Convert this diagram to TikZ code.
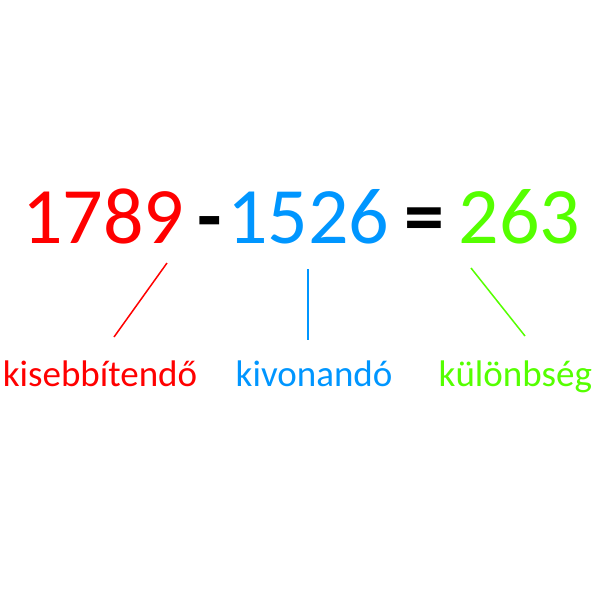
\documentclass[tikz,border=0pt]{standalone}
\usepackage{fontspec}
\setmainfont{Carlito}
\definecolor{cred}{RGB}{255,0,0}
\definecolor{cblue}{RGB}{0,150,255}
\definecolor{cgreen}{RGB}{85,255,0}
\begin{document}
\begin{tikzpicture}[x=1pt,y=-1pt,
  big/.style={inner sep=0pt,anchor=base west,font=\fontsize{80}{90}\selectfont},
  bigb/.style={big,font=\bfseries\fontsize{80}{90}\selectfont},
  lab/.style={inner sep=0pt,anchor=base west,font=\fontsize{37}{42}\selectfont},
  conn/.style={line width=1.5pt}]
\useasboundingbox (0,0) rectangle (600,600);
\node[big,text=cred] (n1) at (22,243) {1789};
\node[bigb] (minus) at (197,243) {-};
\node[big,text=cblue] (n2) at (227,243) {1526};
\node[bigb] (eq) at (404,243) {=};
\node[big,text=cgreen] (n3) at (458.5,243) {263};
\node[lab,text=cred] (l1) at (2.6,386) {kisebbítendő};
\node[lab,text=cblue] (l2) at (235.5,386) {kivonandó};
\node[lab,text=cgreen] (l3) at (438.5,386) {különbség};
\coordinate (a1) at (167,263); \coordinate (b1) at (114,337);
\coordinate (a2) at (308,269); \coordinate (b2) at (308,340);
\coordinate (a3) at (471,268); \coordinate (b3) at (525,336);
\draw[conn,cred] (a1) -- (b1);
\draw[conn,cblue] (a2) -- (b2);
\draw[conn,cgreen] (a3) -- (b3);
\end{tikzpicture}
\end{document}
